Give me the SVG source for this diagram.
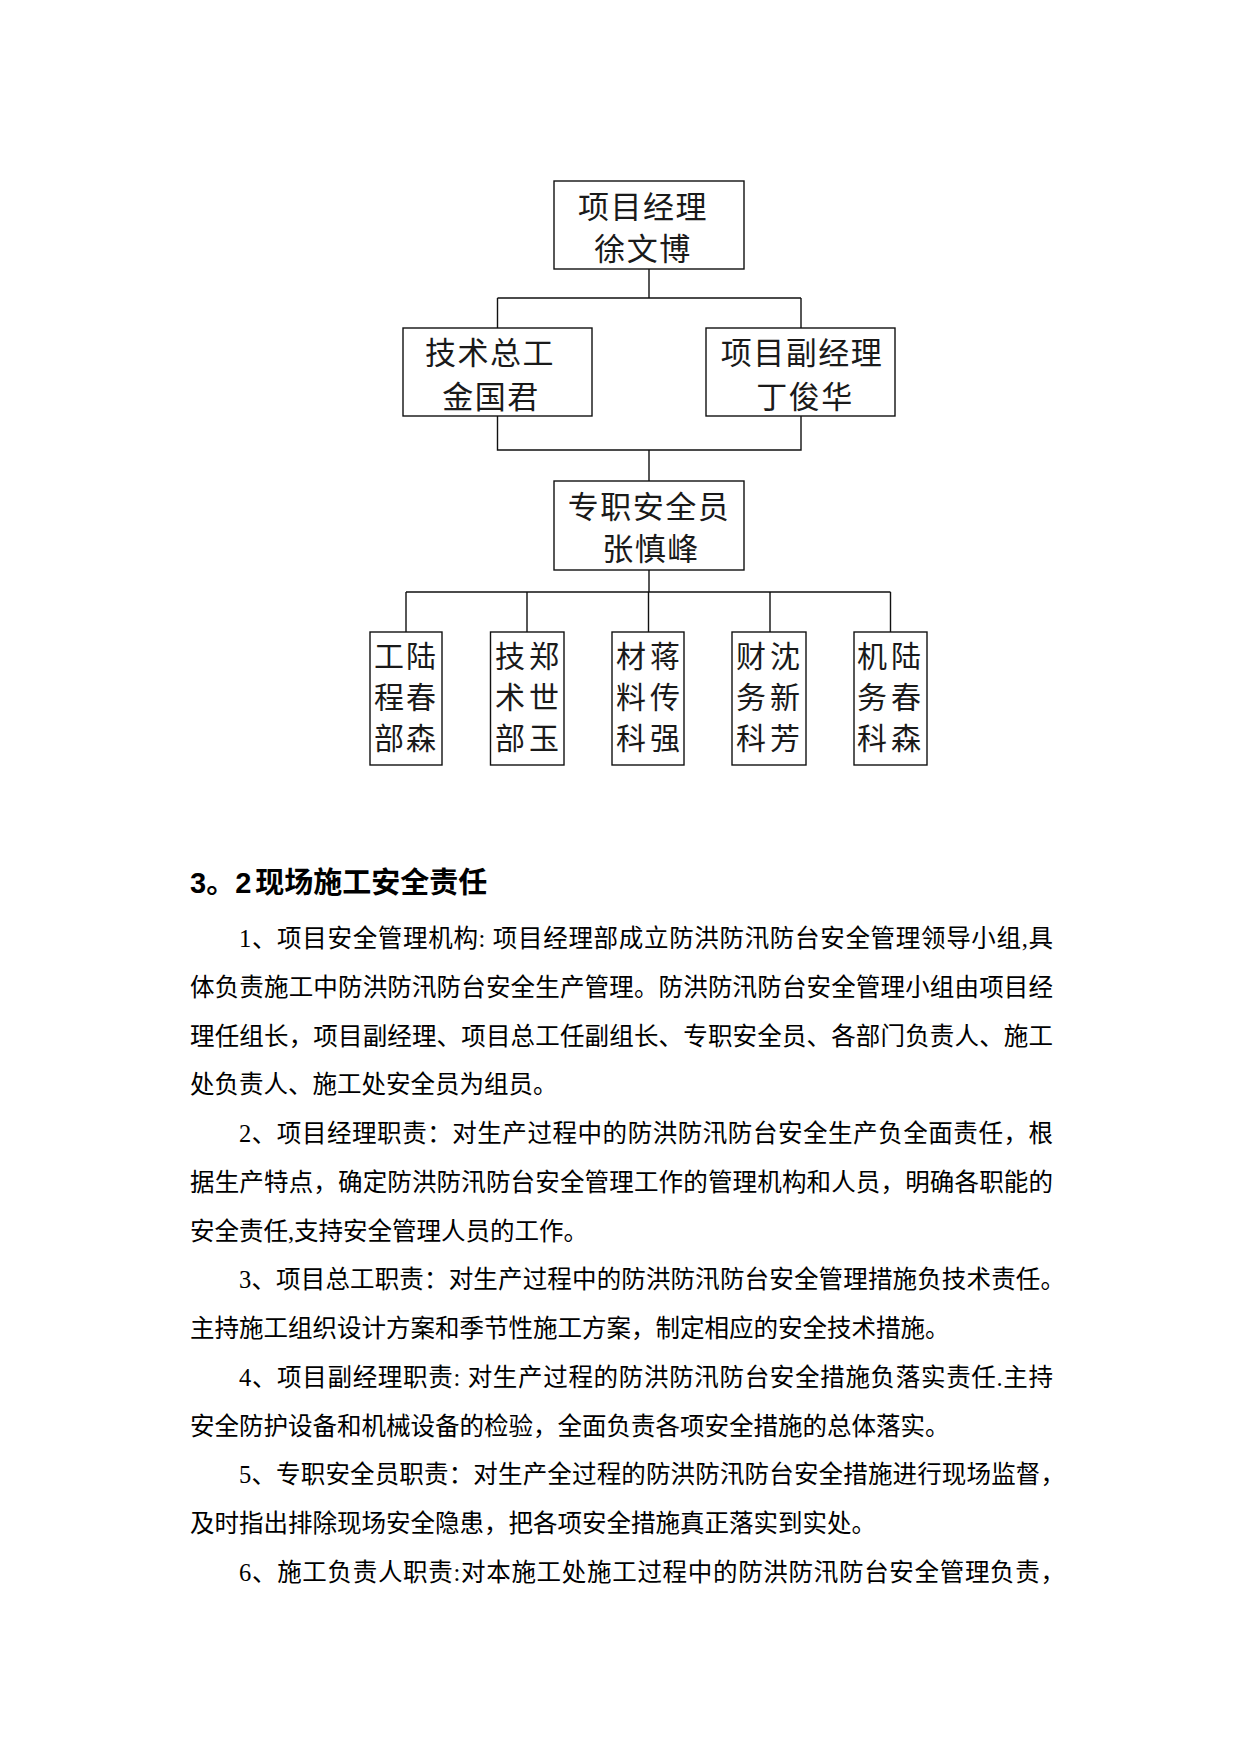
<svg xmlns="http://www.w3.org/2000/svg" width="1241" height="1754" viewBox="0 0 1241 1754">
<style>
.box{fill:#fff;stroke:#111;stroke-width:1.4}
.con{fill:none;stroke:#111;stroke-width:1.4}
.bt{font-family:"Noto Sans CJK SC","Noto Sans CJK TC",sans-serif;font-size:31px;fill:#1a1a1a;text-anchor:middle;letter-spacing:1.5px}
.ct{font-family:"Noto Sans CJK SC",sans-serif;font-size:30px;fill:#1a1a1a;text-anchor:middle}
.h{font-family:"Liberation Sans","Noto Sans CJK SC",sans-serif;font-size:29px;font-weight:bold;fill:#000}
.p{font-family:"Liberation Serif","Noto Sans CJK SC",serif;font-size:24.5px;fill:#000}
</style>
<rect width="1241" height="1754" fill="#fff"/>
<g id="connectors">
<path class="con" d="M649 269V298M497.5 298H801M497.5 298V328M801 298V328"/>
<path class="con" d="M497.5 416V450H801V416M649 450V481"/>
<path class="con" d="M649 570V592M406 592H890.5M406 592V632M527 592V632M648.5 592V632M770 592V632M890.5 592V632"/>
</g>
<g id="n-manager">
<rect class="box" x="554" y="181" width="190" height="88"/>
<text class="bt" x="643" y="218">项目经理</text>
<text class="bt" x="643" y="260">徐文博</text>
</g>
<g id="n-chief-eng">
<rect class="box" x="403" y="328" width="189" height="88"/>
<text class="bt" x="490" y="364">技术总工</text>
<text class="bt" x="491" y="408">金国君</text>
</g>
<g id="n-deputy">
<rect class="box" x="706" y="328" width="189" height="88"/>
<text class="bt" x="802" y="364">项目副经理</text>
<text class="bt" x="805" y="408">丁俊华</text>
</g>
<g id="n-safety">
<rect class="box" x="554" y="481" width="190" height="89"/>
<text class="bt" x="649" y="518">专职安全员</text>
<text class="bt" x="651" y="560">张慎峰</text>
</g>
<g id="n-eng-dept">
<rect class="box" x="370" y="632" width="72" height="133"/>
<text class="ct"><tspan x="389" y="667">工</tspan><tspan x="389" y="708">程</tspan><tspan x="389" y="749">部</tspan></text>
<text class="ct"><tspan x="421" y="667">陆</tspan><tspan x="421" y="708">春</tspan><tspan x="421" y="749">森</tspan></text>
</g>
<g id="n-tech-dept">
<rect class="box" x="490.5" y="632" width="73.5" height="133"/>
<text class="ct"><tspan x="510" y="667">技</tspan><tspan x="510" y="708">术</tspan><tspan x="510" y="749">部</tspan></text>
<text class="ct"><tspan x="544" y="667">郑</tspan><tspan x="544" y="708">世</tspan><tspan x="544" y="749">玉</tspan></text>
</g>
<g id="n-material">
<rect class="box" x="612" y="632" width="72" height="133"/>
<text class="ct"><tspan x="631" y="667">材</tspan><tspan x="631" y="708">料</tspan><tspan x="631" y="749">科</tspan></text>
<text class="ct"><tspan x="665" y="667">蒋</tspan><tspan x="665" y="708">传</tspan><tspan x="665" y="749">强</tspan></text>
</g>
<g id="n-finance">
<rect class="box" x="732" y="632" width="74" height="133"/>
<text class="ct"><tspan x="751" y="667">财</tspan><tspan x="751" y="708">务</tspan><tspan x="751" y="749">科</tspan></text>
<text class="ct"><tspan x="785" y="667">沈</tspan><tspan x="785" y="708">新</tspan><tspan x="785" y="749">芳</tspan></text>
</g>
<g id="n-machine">
<rect class="box" x="854" y="632" width="73" height="133"/>
<text class="ct"><tspan x="872" y="667">机</tspan><tspan x="872" y="708">务</tspan><tspan x="872" y="749">科</tspan></text>
<text class="ct"><tspan x="906" y="667">陆</tspan><tspan x="906" y="708">春</tspan><tspan x="906" y="749">森</tspan></text>
</g>
<g id="body-text">
<text class="h" x="190" y="893">3。2<tspan dx="4">现场施工安全责任</tspan></text>
<text class="p" x="239" y="947" textLength="814" lengthAdjust="spacing">1、项目安全管理机构: 项目经理部成立防洪防汛防台安全管理领导小组,具</text>
<text class="p" x="190" y="995.7" textLength="863" lengthAdjust="spacing">体负责施工中防洪防汛防台安全生产管理。防洪防汛防台安全管理小组由项目经</text>
<text class="p" x="190" y="1044.5" textLength="863" lengthAdjust="spacing">理任组长，项目副经理、项目总工任副组长、专职安全员、各部门负责人、施工</text>
<text class="p" x="190" y="1093.2">处负责人、施工处安全员为组员。</text>
<text class="p" x="239" y="1142" textLength="814" lengthAdjust="spacing">2、项目经理职责：对生产过程中的防洪防汛防台安全生产负全面责任，根</text>
<text class="p" x="190" y="1190.7" textLength="863" lengthAdjust="spacing">据生产特点，确定防洪防汛防台安全管理工作的管理机构和人员，明确各职能的</text>
<text class="p" x="190" y="1239.5">安全责任,支持安全管理人员的工作。</text>
<text class="p" x="239" y="1288.2" textLength="826" lengthAdjust="spacing">3、项目总工职责：对生产过程中的防洪防汛防台安全管理措施负技术责任。</text>
<text class="p" x="190" y="1337">主持施工组织设计方案和季节性施工方案，制定相应的安全技术措施。</text>
<text class="p" x="239" y="1385.7" textLength="814" lengthAdjust="spacing">4、项目副经理职责: 对生产过程的防洪防汛防台安全措施负落实责任.主持</text>
<text class="p" x="190" y="1434.5">安全防护设备和机械设备的检验，全面负责各项安全措施的总体落实。</text>
<text class="p" x="239" y="1483.2" textLength="826" lengthAdjust="spacing">5、专职安全员职责：对生产全过程的防洪防汛防台安全措施进行现场监督，</text>
<text class="p" x="190" y="1532">及时指出排除现场安全隐患，把各项安全措施真正落实到实处。</text>
<text class="p" x="239" y="1580.7" textLength="826" lengthAdjust="spacing">6、施工负责人职责:对本施工处施工过程中的防洪防汛防台安全管理负责，</text>
</g>
</svg>
